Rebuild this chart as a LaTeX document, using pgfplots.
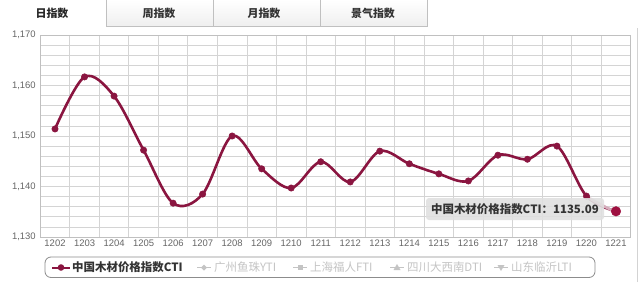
\documentclass[border=0pt]{standalone}
\usepackage{fontspec}
\setmainfont{Liberation Sans}
\newfontfamily\cjk{Noto Sans CJK SC}
\usepackage{pgfplots}
\pgfplotsset{compat=1.18}
\definecolor{ctiline}{HTML}{8A1540}
\definecolor{ctimark}{HTML}{9E1040}
\definecolor{gridc}{HTML}{D4D4D4}
\definecolor{borderc}{HTML}{C0C0C0}
\definecolor{tabbg}{HTML}{EFEFEF}
\definecolor{ticktext}{HTML}{666666}
\definecolor{lightleg}{HTML}{C4C4C4}
\begin{document}
\begin{tikzpicture}[x=1bp,y=1bp]
\useasboundingbox (0,0) rectangle (640,282);
\fill[white] (0,0) rectangle (640,282);
% tabs
\foreach \a/\b in {106/213,213/320,320/427}{
  \fill[top color=white,bottom color=tabbg] (\a,256) rectangle (\b,282);
  \draw[borderc] (\a,282) -- (\a,256) -- (\b,256) -- (\b,282);
}
\node[font=\cjk\bfseries\fontsize{11}{11}\selectfont, text=black!85] at (52,269) {日指数};
\node[font=\cjk\bfseries\fontsize{11}{11}\selectfont, text=black!80] at (159,269) {周指数};
\node[font=\cjk\bfseries\fontsize{11}{11}\selectfont, text=black!80] at (264,269) {月指数};
\node[font=\cjk\bfseries\fontsize{11}{11}\selectfont, text=black!80] at (373,269) {景气指数};
\draw[borderc!70] (637.5,0) -- (637.5,254);
\begin{axis}[
  at={(40.25bp,45bp)}, anchor=south west, scale only axis,
  width=590.5bp, height=202bp,
  xmin=-0.5, xmax=19.5, ymin=1130, ymax=1170,
  xtick={0,...,19},
  xticklabels={1202,1203,1204,1205,1206,1207,1208,1209,1210,1211,1212,1213,1214,1215,1216,1217,1218,1219,1220,1221},
  minor xtick={0.5,1.5,...,18.5},
  ytick={1130,1140,1150,1160,1170},
  minor ytick={1132,1134,1136,1138,1142,1144,1146,1148,1152,1154,1156,1158,1162,1164,1166,1168},
  ymajorgrids, yminorgrids, xminorgrids,
  major grid style={gridc, line width=0.8bp},
  minor grid style={gridc, line width=0.8bp},
  axis line style={borderc, line width=0.8bp},
  major tick length=0pt, minor tick length=0pt,
  tick label style={font=\fontsize{9.5}{10}\selectfont, text=ticktext},
  /pgf/number format/assume math mode=true,
  /pgf/number format/1000 sep={,},
  yticklabel style={xshift=-1bp},
  xticklabel style={yshift=1bp},
  clip=false,
]
\addplot[ctiline, line width=2.6bp, smooth, tension=0.55, mark=*, mark size=3.2bp,
  mark options={fill=ctiline, draw=ctiline, line width=0.5bp}] coordinates {
(0,1151.4) (1,1161.7) (2,1157.9) (3,1147.2) (4,1136.7) (5,1138.5) (6,1150.0)
(7,1143.5) (8,1139.7) (9,1144.9) (10,1140.9) (11,1147.0) (12,1144.5) (13,1142.5)
(14,1141.1) (15,1146.2) (16,1145.4) (17,1148.0) (18,1138.1) (19,1135.09)};
\addplot[ctiline!35, line width=2.6bp] coordinates {(18.12,1137.6) (18.85,1135.3)};
\addplot[only marks, mark=*, mark size=4.8bp, mark options={fill=ctimark, draw=ctimark}] coordinates {(19,1135.09)};
\end{axis}
% tooltip
\node[fill=black!12, fill opacity=0.9, text opacity=1, rounded corners=3bp,
  minimum width=178bp, minimum height=22bp, inner sep=0pt,
  font=\cjk\bfseries\fontsize{11.5}{11}\selectfont, text=black!80] at (515,73) {中国木材价格指数CTI：1135.09};
% legend
\draw[black!45, line width=0.8bp, rounded corners=6bp] (45,4.5) rectangle (595,25);
\draw[ctiline, line width=2bp] (52,14.5) -- (70,14.5);
\fill[ctiline] (61,14.5) circle (3.3);
\node[anchor=west, font=\cjk\bfseries\fontsize{11.5}{12}\selectfont, text=black!80, inner sep=0] at (72,14.5) {中国木材价格指数CTI};
\draw[lightleg, line width=1.5bp] (197,14.5) -- (211,14.5);
\fill[lightleg] (204,11.5) -- (207,14.5) -- (204,17.5) -- (201,14.5) -- cycle;
\node[anchor=west, font=\cjk\fontsize{11.5}{12}\selectfont, text=lightleg, inner sep=0] at (214,14.5) {广州鱼珠YTI};
\draw[lightleg, line width=1.5bp] (293,14.5) -- (307,14.5);
\fill[lightleg] (297.5,12) rectangle (302.5,17);
\node[anchor=west, font=\cjk\fontsize{11.5}{12}\selectfont, text=lightleg, inner sep=0] at (310,14.5) {上海福人FTI};
\draw[lightleg, line width=1.5bp] (390,14.5) -- (404,14.5);
\fill[lightleg] (397,18) -- (400.5,12) -- (393.5,12) -- cycle;
\node[anchor=west, font=\cjk\fontsize{11.5}{12}\selectfont, text=lightleg, inner sep=0] at (407,14.5) {四川大西南DTI};
\draw[lightleg, line width=1.5bp] (494,14.5) -- (508,14.5);
\fill[lightleg] (501,11) -- (504.5,17) -- (497.5,17) -- cycle;
\node[anchor=west, font=\cjk\fontsize{11.5}{12}\selectfont, text=lightleg, inner sep=0] at (511,14.5) {山东临沂LTI};
\end{tikzpicture}
\end{document}
